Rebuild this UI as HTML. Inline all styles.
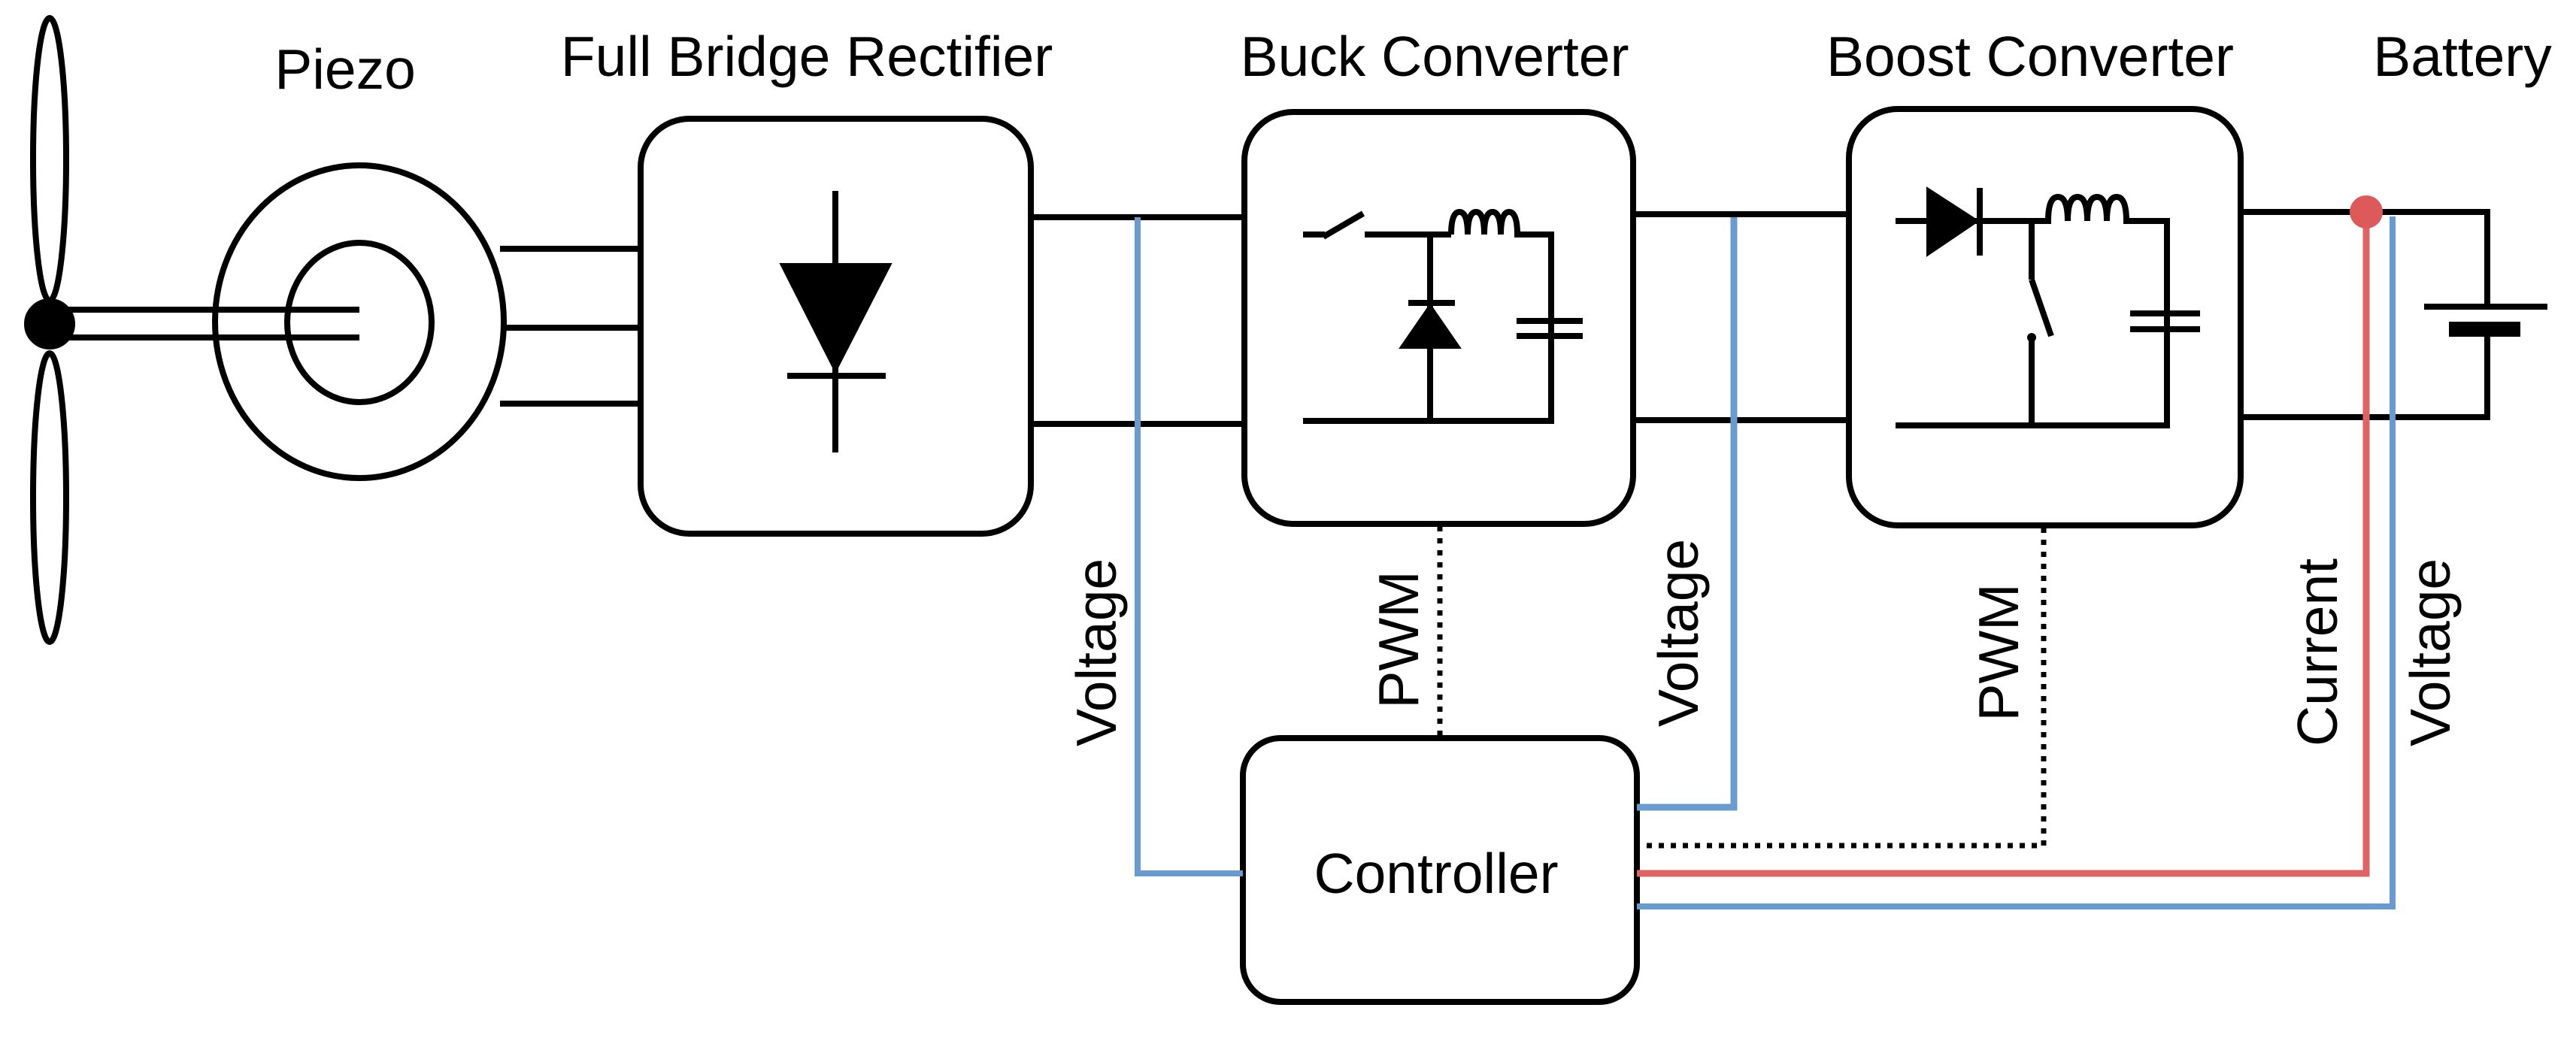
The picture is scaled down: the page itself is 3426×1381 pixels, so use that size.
<!DOCTYPE html>
<html><head><meta charset="utf-8"><style>html,body{margin:0;padding:0;background:#fff}svg{display:block}</style></head>
<body>
<svg width="3426" height="1381" viewBox="0 0 3426 1381" xmlns="http://www.w3.org/2000/svg" font-family="Liberation Sans, Arial, sans-serif" font-size="75" fill="none" stroke="#000" stroke-width="8">
<!-- propeller -->
<ellipse cx="66" cy="212" rx="22" ry="188"/>
<ellipse cx="66" cy="662" rx="22" ry="192"/>
<circle cx="66" cy="431" r="30" fill="#000"/>
<line x1="66" y1="412" x2="478" y2="412"/>
<line x1="66" y1="449" x2="478" y2="449"/>
<!-- piezo -->
<ellipse cx="478" cy="428" rx="192" ry="208"/>
<ellipse cx="478" cy="429" rx="96" ry="106"/>
<line x1="665" y1="331" x2="852" y2="331"/>
<line x1="670" y1="436" x2="852" y2="436"/>
<line x1="665" y1="537" x2="852" y2="537"/>
<!-- rectifier -->
<rect x="852" y="158" width="519" height="552" rx="65"/>
<line x1="1111" y1="254" x2="1111" y2="602"/>
<polygon points="1038,351 1185,351 1111,495" fill="#000" stroke-width="2"/>
<line x1="1047" y1="500" x2="1178" y2="500"/>
<line x1="1371" y1="289" x2="1655" y2="289"/>
<line x1="1371" y1="564" x2="1655" y2="564"/>
<!-- buck -->
<rect x="1655" y="149" width="517" height="548" rx="65"/>
<line x1="1733" y1="312" x2="1762" y2="312"/>
<line x1="1760" y1="315" x2="1813" y2="284"/>
<line x1="1815" y1="312" x2="1930" y2="312"/>
<path d="M1930 312 q0-30 11-30 q11 0 11 30 q0-30 11-30 q11 0 11 30 q0-30 11-30 q11 0 11 30 q0-30 11-30 q11 0 11 30 L2063 312 L2063 563" stroke-width="8"/>
<line x1="2017" y1="427" x2="2105" y2="427"/>
<line x1="2017" y1="447" x2="2105" y2="447"/>
<line x1="1902" y1="312" x2="1902" y2="563"/>
<line x1="1873" y1="403" x2="1935" y2="403"/>
<polygon points="1902,405 1942,463 1862,463" fill="#000" stroke-width="2"/>
<line x1="1733" y1="560" x2="2067" y2="560"/>
<line x1="2172" y1="285" x2="2459" y2="285"/>
<line x1="2172" y1="559" x2="2459" y2="559"/>
<!-- boost -->
<rect x="2459" y="145" width="521" height="554" rx="65"/>
<line x1="2521" y1="294" x2="2702" y2="294"/>
<polygon points="2563,250 2631,294 2563,340" fill="#000" stroke-width="2"/>
<line x1="2633" y1="250" x2="2633" y2="340"/>
<path d="M2702 294 L2724 294 q0-32 13-32 q13 0 13 32 q0-32 13-32 q13 0 13 32 q0-32 13-32 q13 0 13 32 q0-32 13-32 q13 0 13 32 L2882 294 L2882 568"/>
<line x1="2833" y1="417" x2="2926" y2="417"/>
<line x1="2833" y1="438" x2="2926" y2="438"/>
<line x1="2702" y1="294" x2="2702" y2="372"/>
<line x1="2702" y1="372" x2="2728" y2="447"/>
<circle cx="2702" cy="449" r="5" fill="#000" stroke-width="2"/>
<line x1="2702" y1="449" x2="2702" y2="566"/>
<line x1="2521" y1="566" x2="2886" y2="566"/>
<!-- battery -->
<line x1="2980" y1="282" x2="3308" y2="282"/>
<line x1="2980" y1="555" x2="3308" y2="555"/>
<line x1="3308" y1="278" x2="3308" y2="408"/>
<line x1="3308" y1="438" x2="3308" y2="559"/>
<line x1="3224" y1="408" x2="3388" y2="408"/>
<line x1="3257" y1="438" x2="3352" y2="438" stroke-width="20"/>
<!-- controller -->
<rect x="1653" y="982" width="524" height="351" rx="50"/>
<!-- signals -->
<polyline points="1513,289 1513,1162 1653,1162" stroke="#6a9bd0" stroke-width="8"/>
<polyline points="2306,289 2306,1074 2177,1074" stroke="#6a9bd0" stroke-width="9"/>
<polyline points="3182,288 3182,1206 2177,1206" stroke="#6a9bd0" stroke-width="8"/>
<polyline points="3147,282 3147,1162 2177,1162" stroke="#de6464" stroke-width="9"/>
<circle cx="3147" cy="282" r="22" fill="#de5a5a" stroke="none"/>
<line x1="1915" y1="700" x2="1915" y2="982" stroke-dasharray="7 9" stroke-width="7"/>
<polyline points="2718,702 2718,1125 2177,1125" stroke-dasharray="7 9" stroke-width="7"/>
<!-- labels -->
<g fill="#000" stroke="none">
<text x="459" y="118" text-anchor="middle">Piezo</text>
<text x="1073" y="101" text-anchor="middle">Full Bridge Rectifier</text>
<text x="1908" y="101" text-anchor="middle">Buck Converter</text>
<text x="2700" y="101" text-anchor="middle">Boost Converter</text>
<text x="3275" y="101" text-anchor="middle">Battery</text>
<text x="1910" y="1188" text-anchor="middle">Controller</text>
<text transform="translate(1484,868) rotate(-90)" text-anchor="middle">Voltage</text>
<text transform="translate(1886,851) rotate(-90)" text-anchor="middle">PWM</text>
<text transform="translate(2258,842) rotate(-90)" text-anchor="middle">Voltage</text>
<text transform="translate(2684,868) rotate(-90)" text-anchor="middle">PWM</text>
<text transform="translate(3108,868) rotate(-90)" text-anchor="middle">Current</text>
<text transform="translate(3258,868) rotate(-90)" text-anchor="middle">Voltage</text>
</g>
</svg>
</body></html>
